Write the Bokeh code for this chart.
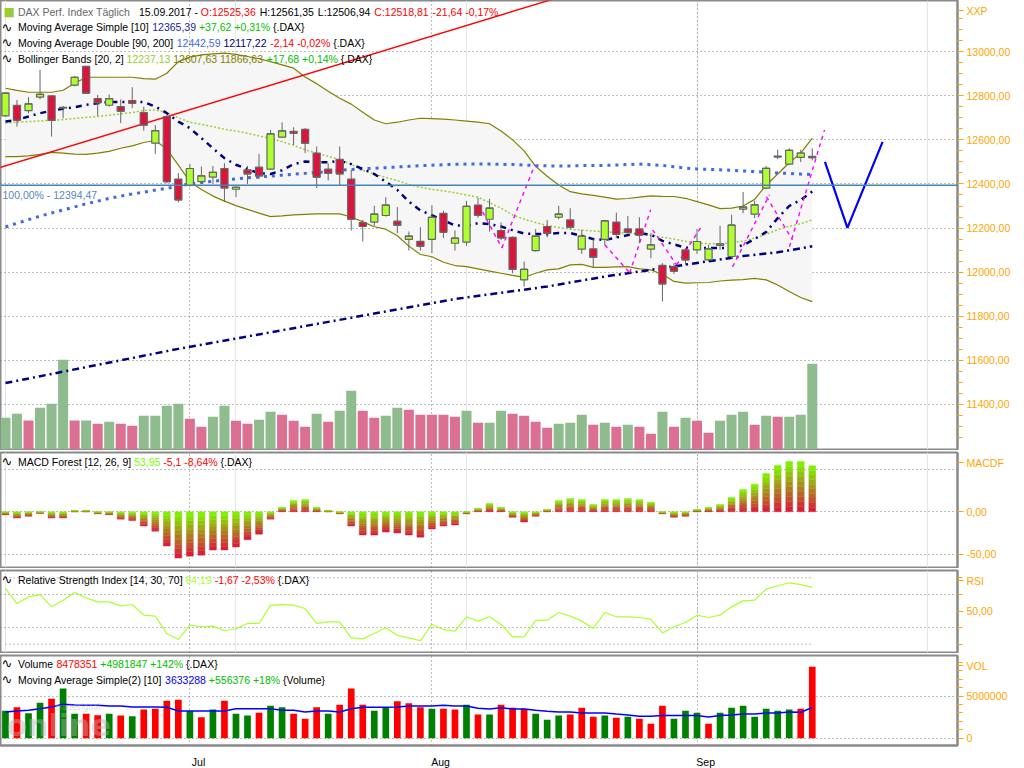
from bokeh.plotting import figure
from bokeh.models import Range1d, FixedTicker, Label, Span, Grid
from bokeh.layouts import column
from bokeh.embed import file_html
from bokeh.resources import INLINE

# ============================ DATA ============================
month_pos = [16, 37, 60]
month_labels = ["Jul", "Aug", "Sep"]

price_ticks = [11400, 11600, 11800, 12000, 12200, 12400, 12600, 12800, 13000]
price_tick_labels = ["11400,00", "11600,00", "11800,00", "12000,00", "12200,00",
                     "12400,00", "12600,00", "12800,00", "13000,00"]
macd_ticks = [-50, 0]
macd_tick_labels = ["-50,00", "0,00"]
macd_grid = [-50, 0, 50]
rsi_ticks = [50]
rsi_tick_labels = ["50,00"]
rsi_grid = [40, 60]
rsi_levels = [30, 70]
vol_ticks = [0, 5000000]
vol_tick_labels = ["0", "5000000"]
panel_names = ["XXP", "MACDF", "RSI", "VOL"]

opens = [12709, 12757, 12733, 12794, 12800, 12747, 12848, 12933, 12787, 12757,
         12751, 12778, 12724, 12585, 12706, 12422, 12394, 12411, 12431, 12470,
         12376, 12464, 12476, 12467, 12612, 12639, 12648, 12540, 12467, 12512,
         12422, 12225, 12227, 12257, 12231, 12149, 12140, 12149, 12267, 12131,
         12136, 12304, 12240, 12189, 12158, 11965, 12098, 12207, 12249, 12237,
         12104, 12106, 12149, 12227, 12196, 12196, 12104, 12031, 12025, 12101,
         12101, 12056, 12121, 12071, 12286, 12263, 12381, 12526, 12490, 12521,
         12525.36]
highs = [12815, 12781, 12794, 12918, 12802, 12754, 12890, 12936, 12804, 12806,
         12784, 12839, 12751, 12667, 12713, 12449, 12491, 12479, 12482, 12494,
         12388, 12482, 12536, 12645, 12679, 12657, 12654, 12570, 12494, 12570,
         12464, 12237, 12301, 12340, 12295, 12184, 12204, 12304, 12279, 12189,
         12323, 12337, 12332, 12225, 12162, 12048, 12195, 12237, 12301, 12290,
         12192, 12149, 12237, 12270, 12255, 12249, 12177, 12041, 12041, 12109,
         12196, 12124, 12210, 12260, 12364, 12323, 12482, 12555, 12562, 12555,
         12561.35]
lows = [12705, 12660, 12721, 12784, 12615, 12698, 12842, 12810, 12709, 12751,
        12676, 12744, 12642, 12536, 12403, 12316, 12388, 12403, 12400, 12320,
        12340, 12400, 12422, 12464, 12608, 12577, 12540, 12381, 12416, 12391,
        12189, 12139, 12210, 12252, 12177, 12098, 12098, 12086, 12154, 12098,
        12119, 12246, 12184, 12146, 11995, 11935, 12093, 12158, 12240, 12195,
        12083, 12022, 12124, 12154, 12174, 12131, 12063, 11867, 11992, 12033,
        12083, 12048, 12101, 12063, 12267, 12245, 12376, 12512, 12487, 12499,
        12506.94]
closes = [12812, 12689, 12763, 12806, 12688, 12745, 12884, 12812, 12769, 12787,
          12730, 12766, 12667, 12642, 12411, 12328, 12470, 12437, 12453, 12382,
          12385, 12446, 12437, 12627, 12641, 12630, 12585, 12431, 12449, 12446,
          12240, 12207, 12263, 12304, 12213, 12163, 12118, 12249, 12181, 12154,
          12298, 12258, 12290, 12155, 12013, 12013, 12163, 12177, 12263, 12204,
          12163, 12068, 12233, 12172, 12181, 12168, 12124, 11947, 12004, 12056,
          12139, 12106, 12128, 12213, 12295, 12305, 12471, 12523, 12552, 12540.45,
          12518.81]

sma10 = [12683, 12690, 12706, 12721, 12732, 12741, 12748, 12759, 12766, 12772,
         12772, 12772, 12771, 12751, 12721, 12683, 12653, 12608, 12562, 12517,
         12487, 12467, 12449, 12445, 12462, 12490, 12502, 12499, 12499, 12505,
         12490, 12468, 12445, 12410, 12373, 12320, 12280, 12258, 12235, 12212,
         12210, 12222, 12218, 12207, 12190, 12175, 12173, 12172, 12178, 12177,
         12165, 12150, 12146, 12157, 12168, 12177, 12170, 12142, 12126, 12111,
         12109, 12109, 12109, 12110, 12122, 12150, 12182, 12245, 12300, 12327.77,
         12365.39]
ma90 = [12205, 12222, 12238, 12254, 12268, 12282, 12296, 12310, 12322, 12335,
        12345, 12355, 12363, 12372, 12380, 12390, 12400, 12406, 12412, 12418,
        12423, 12428, 12432, 12435, 12440, 12444, 12448, 12452, 12457, 12462,
        12466, 12469, 12471, 12474, 12477, 12480, 12483, 12485, 12487, 12489,
        12490, 12490, 12490, 12489, 12488, 12486, 12483, 12482, 12482, 12482,
        12483, 12484, 12484, 12486, 12488, 12490, 12487, 12484, 12478, 12472,
        12468, 12466, 12464, 12462, 12459, 12456, 12454, 12450, 12448, 12444.73,
        12442.59]
ma200_idx = [0, 15, 39, 47, 52, 58, 64, 67, 70]
ma200_val = [11497, 11652, 11878, 11935, 11980, 12026, 12073, 12090, 12117.22]
bb_upper = [12834, 12824, 12816, 12816, 12816, 12825, 12857, 12884, 12884, 12884,
            12884, 12884, 12878, 12875, 12902, 12955, 12975, 12985, 12990, 12993,
            12988, 12978, 12968, 12955, 12940, 12925, 12885, 12855, 12820, 12789,
            12762, 12725, 12690, 12673, 12680, 12690, 12698, 12696, 12694, 12690,
            12685, 12680, 12673, 12640, 12600, 12550, 12480, 12435, 12395, 12365,
            12355, 12348, 12340, 12331, 12334, 12340, 12346, 12344, 12343, 12335,
            12320, 12305, 12288, 12290, 12300, 12330, 12395, 12445, 12496, 12540,
            12607.63]
bb_mid = [12676, 12680, 12683, 12686, 12689, 12692, 12697, 12702, 12706, 12712,
          12718, 12724, 12733, 12736, 12724, 12700, 12680, 12670, 12660, 12648,
          12640, 12630, 12618, 12606, 12592, 12575, 12555, 12540, 12525, 12510,
          12490, 12462, 12445, 12430, 12415, 12398, 12385, 12375, 12369, 12360,
          12350, 12340, 12315, 12290, 12260, 12240, 12225, 12212, 12202, 12195,
          12190, 12187, 12183, 12180, 12177, 12173, 12167, 12158, 12150, 12140,
          12132, 12129, 12128, 12134, 12140, 12155, 12172, 12193, 12208, 12219.45,
          12237.13]
bb_lower = [12524, 12524, 12527, 12534, 12543, 12540, 12535, 12534, 12540, 12548,
            12562, 12573, 12588, 12597, 12558, 12485, 12410, 12375, 12345, 12322,
            12302, 12285, 12268, 12252, 12255, 12260, 12262, 12264, 12264, 12264,
            12250, 12228, 12206, 12195, 12165, 12118, 12080, 12070, 12045, 12030,
            12025, 12015, 12005, 11995, 11985, 11976, 11995, 12010, 12015, 12033,
            12035, 12022, 12022, 12024, 12025, 12015, 12010, 11990, 11958, 11950,
            11952, 11953, 11960, 11964, 11966, 11972, 11965, 11942, 11912, 11885,
            11866.63]

# volume bars inside the price panel (relative units)
main_vol = [95, 107, 87, 125, 137, 269, 87, 87, 77, 83,
            77, 71, 101, 101, 131, 137, 92, 68, 98, 131,
            86, 77, 89, 113, 104, 86, 68, 107, 83, 116,
            176, 116, 95, 101, 125, 119, 104, 104, 104, 98,
            116, 80, 80, 116, 107, 101, 83, 65, 77, 80,
            104, 74, 80, 68, 74, 68, 47, 113, 68, 95,
            86, 50, 86, 104, 113, 74, 101, 98, 98, 104,
            257]
main_vol_dir = list("GGPGGGPGPG" "PPGGGGPPGG" "PPGGPPPGPG" "GPPGGPPPPP"
                    "GPGGPPPPGG" "GPGPGPPGPG" "PPGGGPGPGG" "G")

volume_m = [3.27, 3.66, 2.95, 4.21, 4.69, 5.90, 2.91, 2.91, 2.72, 2.91,
            2.68, 2.60, 3.39, 3.50, 4.45, 4.57, 3.23, 2.48, 3.39, 4.45,
            2.91, 2.68, 3.03, 3.86, 3.66, 2.91, 2.32, 3.66, 2.91, 3.98,
            5.90, 3.98, 3.27, 3.62, 4.37, 4.13, 3.66, 3.50, 3.50, 3.39,
            3.98, 2.80, 2.80, 3.98, 3.62, 3.50, 2.91, 2.20, 2.68, 2.80,
            3.62, 2.56, 2.68, 2.44, 2.56, 2.32, 1.73, 3.86, 2.32, 3.27,
            3.03, 1.73, 3.03, 3.62, 3.86, 2.56, 3.50, 3.27, 3.39, 3.50,
            8.478351]
vol_dir = list("GRGGRGGRRG" "RGRRRRGRGR" "GGRGGRRRGR" "RRGGRRRGRR"
               "GRGRRRGGGR" "RRGRGRRRGG" "GRGGGGGGGR" "R")
vol_ma10_m = [3.11, 3.23, 3.31, 3.50, 3.70, 4.02, 3.94, 3.90, 3.90, 3.82,
              3.82, 3.70, 3.70, 3.70, 3.66, 3.23, 3.23, 3.23, 3.23, 3.23,
              3.50, 3.50, 3.50, 3.50, 3.31, 3.31, 3.11, 3.23, 3.23, 3.11,
              3.50, 3.66, 3.66, 3.66, 3.70, 3.82, 3.82, 3.82, 3.90, 3.82,
              3.82, 3.54, 3.46, 3.62, 3.46, 3.46, 3.31, 3.19, 3.11, 3.11,
              2.99, 2.99, 2.99, 2.87, 2.76, 2.60, 2.60, 2.68, 2.68, 2.68,
              2.68, 2.52, 2.68, 2.76, 2.87, 2.87, 2.99, 2.99, 3.11, 3.08,
              3.633288]

macd = [-3.5, -7.4, -5.1, -1.6, -7.4, -7.4, 1.6, 1.6, -2.3, -3.5,
        -8.6, -10.2, -16.8, -22.7, -40.2, -54.3, -52.0, -50.8, -44.9, -44.9,
        -41.4, -32.8, -26.2, -8.6, 5.1, 13.3, 14.5, 5.1, 1.6, -2.3,
        -16.8, -27.3, -27.3, -23.8, -25.0, -27.3, -29.7, -20.3, -16.8, -15.6,
        -2.3, 3.9, 9.8, 5.1, -6.3, -12.1, -5.1, 2.7, 13.3, 15.6,
        14.5, 8.6, 14.5, 14.5, 15.6, 14.5, 11.3, -2.3, -6.3, -5.1,
        2.7, 5.1, 8.6, 16.8, 26.2, 32.4, 44.9, 54.3, 59.0, 59.05,
        53.95]
rsi = [63.6, 54.5, 58.5, 59.9, 52.5, 56.5, 61.1, 57.9, 55.5, 55.5,
       53.1, 53.9, 47.5, 46.9, 36.4, 32.8, 41.5, 40.5, 40.9, 38.1,
       39.3, 42.5, 42.5, 53.5, 53.9, 53.5, 51.5, 42.5, 43.5, 43.5,
       33.8, 33.2, 36.4, 39.9, 35.4, 33.8, 32.2, 41.9, 38.9, 37.9,
       46.5, 43.9, 46.5, 41.9, 34.4, 34.4, 44.3, 44.5, 49.1, 46.9,
       43.9, 39.5, 49.1, 46.5, 46.5, 46.1, 45.1, 36.8, 40.5, 43.1,
       47.5, 46.1, 47.5, 52.5, 56.1, 56.5, 63.2, 65.2, 67.0, 65.86,
       64.19]

# chart drawings (bar index, price)
trend_idx = [0, 46.8]
trend_val = [12482, 13227]
v_idx = [71.1, 73.05, 76.1]
v_val = [12500, 12201, 12591]
fib_level = 12394.47
fib_text = "100,00% - 12394,47"
mag_x0 = [41.07, 43.07, 52.0, 54.16, 56.15, 58.23, 63.08, 66.03, 68.02]
mag_y0 = [12305, 12110, 12124, 11997, 12192, 12033, 12024, 12342, 12115]
mag_x1 = [43.07, 45.93, 54.16, 55.98, 58.23, 60.49, 66.29, 68.28, 71.06]
mag_y1 = [12110, 12487, 11997, 12283, 12033, 12215, 12351, 12146, 12645]

# ============================ STYLE ============================
FONT = "Liberation Sans"
FS = 10.5
ORANGE = "#FFA500"
FRAMEC = "#8a8a8a"
GRIDC = "#7a7a7a"
FRAME_W = 957
RIGHT_W = 58
GREEN_C = "#ADFF2F"
RED_C = "#DC143C"
NAME_OFF = 10  # px below panel top where the panel name sits on the right axis

n = len(closes)
idx = list(range(n))
x_range = Range1d(-0.43, 82.6)

ARIAL = {' ': 278, '%': 889, '+': 584, ',': 278, '-': 333, '.': 278, ':': 278,
         '[': 278, ']': 278, '{': 334, '}': 334, '(': 333, ')': 333,
         'A': 667, 'B': 667, 'C': 722, 'D': 722, 'E': 667, 'F': 611, 'G': 778,
         'H': 722, 'I': 278, 'L': 556, 'M': 833, 'O': 778, 'P': 667, 'R': 722,
         'S': 667, 'T': 611, 'V': 667, 'X': 667, 'a': 556, 'b': 556, 'c': 500,
         'd': 556, 'e': 556, 'f': 278, 'g': 556, 'h': 556, 'i': 222, 'l': 222,
         'm': 833, 'n': 556, 'o': 556, 'p': 556, 'r': 333, 's': 500, 't': 278,
         'u': 556, 'v': 500, 'x': 500, 'y': 500, 'ä': 556}


def tw(s, size=FS):
    return sum(ARIAL.get(ch, 556) for ch in s) * size / 1000.0


def make_panel(frame_h, lo, hi, b_top, b_bottom, grid_ticks, ticks, labels, name,
               minor=None, with_xaxis=False):
    p = figure(frame_width=FRAME_W, frame_height=frame_h, x_range=x_range,
               y_range=Range1d(lo, hi),
               output_backend="svg", toolbar_location=None,
               x_axis_location=("below" if with_xaxis else None), y_axis_location="right",
               min_border_left=0, min_border_right=RIGHT_W,
               min_border_top=b_top, min_border_bottom=b_bottom)
    p.outline_line_color = FRAMEC
    p.outline_line_width = 2
    p.background_fill_color = "white"
    p.border_fill_color = "white"
    ax = p.yaxis[0]
    # panel name shown as a label on the right axis near the top of the panel
    name_pos = hi - NAME_OFF * (hi - lo) / frame_h
    ax.ticker = FixedTicker(ticks=list(ticks) + [name_pos], minor_ticks=(minor or []))
    ov = dict(zip(ticks, labels))
    ov[name_pos] = name
    ax.major_label_overrides = ov
    ax.axis_line_color = FRAMEC
    ax.axis_line_width = 2
    ax.major_tick_line_color = ORANGE
    ax.major_tick_in = 0
    ax.major_tick_out = 6
    ax.minor_tick_line_color = ORANGE
    ax.minor_tick_in = 0
    ax.minor_tick_out = 5
    ax.major_label_text_color = ORANGE
    ax.major_label_text_font = FONT
    ax.major_label_text_font_size = f"{FS}px"
    ax.major_label_standoff = 3
    p.ygrid.ticker = FixedTicker(ticks=grid_ticks)
    p.ygrid.grid_line_color = GRIDC
    p.ygrid.grid_line_dash = "1 3"
    if with_xaxis:
        p.xgrid.visible = False
    p.add_layout(Grid(dimension=0, ticker=FixedTicker(ticks=month_pos),
                      grid_line_color=GRIDC, grid_line_dash="1 3"))
    return p


def legend_row(p, frame_h, top_off, segs, icon="wave", gaps=None):
    if icon == "wave":
        p.add_layout(Label(x=1, y=frame_h - top_off, x_units="screen", y_units="screen",
                           text="\u223f", text_font="DejaVu Sans", text_font_size="13px",
                           text_color="black", text_baseline="middle", text_align="left"))
    x = 17.5
    for k, (txt, col) in enumerate(segs):
        p.add_layout(Label(x=x, y=frame_h - top_off, x_units="screen", y_units="screen",
                           text=txt, text_font=FONT, text_font_size=f"{FS}px",
                           text_color=col, text_baseline="middle", text_align="left"))
        x += tw(txt + " ") + (gaps[k] if gaps else 0)


# ============================ PRICE PANEL ============================
MAIN_H = 449
MAIN_LO = 13232 - MAIN_H / 0.2205
p = make_panel(MAIN_H, MAIN_LO, 13232, 0, 1, price_ticks, price_ticks, price_tick_labels,
               panel_names[0],
               minor=[v for v in range(11200, 13250, 50) if v % 200 != 0])
p.extra_y_ranges = {"vol": Range1d(0, MAIN_H * 3)}

p.varea(x=idx, y1=bb_lower, y2=bb_upper, fill_color="#f6f6f6")
p.vbar(x=idx, width=0.87, top=main_vol, bottom=0, y_range_name="vol",
       fill_color=["#8FBC8F" if d == "G" else "#DB7093" for d in main_vol_dir], line_color=None)

p.line(idx, bb_upper, line_color="#808000", line_width=1.2)
p.line(idx, bb_lower, line_color="#808000", line_width=1.2)
p.line(idx, bb_mid, line_color="#9ACD32", line_width=1.5, line_dash="2 2")
p.line(idx, ma90, line_color="#4169E1", line_width=3, line_dash="3 5")
p.line(ma200_idx, ma200_val, line_color="#000080", line_width=2.5, line_dash="7 4 2 4")
p.line(idx, sma10, line_color="#000080", line_width=2.5, line_dash="6 5 2 5")

# trend line (extended linearly through the two anchor points)
slope = (trend_val[1] - trend_val[0]) / (trend_idx[1] - trend_idx[0])
tx = [-1.0, 60.0]
p.line(tx, [trend_val[0] + slope * (t - trend_idx[0]) for t in tx], line_color="#FF0000", line_width=1.4)

p.add_layout(Span(location=fib_level, dimension="width", line_color="#4682B4", line_width=1.5))
p.add_layout(Label(x=2, y=fib_level, x_units="screen", y_units="data", text=fib_text,
                   text_font=FONT, text_font_size=f"{FS}px", text_color="#5b86b5",
                   text_baseline="top", y_offset=-4))

p.segment(x0=mag_x0, y0=mag_y0, x1=mag_x1, y1=mag_y1, line_color="#FF00FF",
          line_width=1.4, line_dash="4 4")

# candles
p.segment(x0=idx, y0=lows, x1=idx, y1=highs, line_color="#666666", line_width=1)
p.vbar(x=idx, width=0.62, top=[max(o, c) for o, c in zip(opens, closes)],
       bottom=[min(o, c) for o, c in zip(opens, closes)],
       fill_color=[GREEN_C if c >= o else RED_C for o, c in zip(opens, closes)],
       line_color="#666666", line_width=1.2)
p.segment(x0=[i - 0.31 for i in idx], y0=closes, x1=[i + 0.31 for i in idx], y1=closes,
          line_color="#666666", line_width=1.2)

p.line(v_idx, v_val, line_color="#0000FF", line_width=2.2)

# legend rows
p.add_layout(Label(x=3, y=MAIN_H - 11, x_units="screen", y_units="screen", text="\u25a0",
                   text_font="DejaVu Sans", text_font_size="12px", text_color="#9ACD32",
                   text_baseline="middle"))
legend_row(p, MAIN_H, 11, [("DAX Perf. Index Täglich", "#666666"), ("15.09.2017 -", "#000000"),
                           ("O:12525,36", "#FF0000"), ("H:12561,35", "#000000"),
                           ("L:12506,94", "#000000"), ("C:12518,81", "#FF0000"),
                           ("-21,64", "#FF0000"), ("-0,17%", "#FF0000")], icon=None,
           gaps=[6, 0, 1, 1, 1, 1, 0, 0])
legend_row(p, MAIN_H, 26.5, [("Moving Average Simple [10]", "#000000"), ("12365,39", "#24249a"),
                             ("+37,62", "#00C000"), ("+0,31%", "#00C000"), ("{.DAX}", "#000000")])
legend_row(p, MAIN_H, 42.3, [("Moving Average Double [90, 200]", "#000000"), ("12442,59", "#4169E1"),
                             ("12117,22", "#000080"), ("-2,14", "#FF0000"), ("-0,02%", "#FF0000"),
                             ("{.DAX}", "#000000")])
legend_row(p, MAIN_H, 58, [("Bollinger Bands [20, 2]", "#000000"), ("12237,13", "#9ACD32"),
                           ("12607,63", "#808000"), ("11866,63", "#808000"),
                           ("+17,68", "#00C000"), ("+0,14%", "#00C000"), ("{.DAX}", "#000000")])

# ============================ MACD PANEL ============================
MACD_H = 115
pm = make_panel(MACD_H, -65.3, 69.5, 2, 1, macd_grid, macd_ticks, macd_tick_labels, panel_names[1])
NSEG = 10
RED_RGB = (220, 20, 60)
GRN_RGB = (124, 252, 0)
qL, qR, qB, qT, qC = [], [], [], [], []
for i, v in enumerate(macd):
    lo, hi = min(0.0, v), max(0.0, v)
    for k in range(NSEG):
        f = (k + 0.5) / NSEG
        col = "#%02x%02x%02x" % tuple(int(RED_RGB[j] + (GRN_RGB[j] - RED_RGB[j]) * f) for j in range(3))
        qL.append(i - 0.3)
        qR.append(i + 0.3)
        qB.append(lo + (hi - lo) * k / NSEG)
        qT.append(lo + (hi - lo) * (k + 1) / NSEG)
        qC.append(col)
pm.quad(left=qL, right=qR, bottom=qB, top=qT, fill_color=qC, line_color=qC, line_width=0.4)
legend_row(pm, MACD_H, 9, [("MACD Forest [12, 26, 9]", "#000000"), ("53,95", "#7CFC00"),
                           ("-5,1", "#FF0000"), ("-8,64%", "#FF0000"), ("{.DAX}", "#000000")])

# ============================ RSI PANEL ============================
RSI_H = 82
pr = make_panel(RSI_H, 25.0, 74.4, 2, 1, rsi_grid, rsi_ticks, rsi_tick_labels, panel_names[2],
                minor=[30, 40, 60, 70])
pr.segment(x0=[0, 0], y0=rsi_levels, x1=[n - 1, n - 1], y1=rsi_levels,
           line_color=GRIDC, line_dash="1 3", line_width=1)
pr.line(idx, rsi, line_color="#ADFF2F", line_width=1.2)
legend_row(pr, RSI_H, 9, [("Relative Strength Index [14, 30, 70]", "#000000"), ("64,19", "#ADFF2F"),
                          ("-1,67", "#FF0000"), ("-2,53%", "#FF0000"), ("{.DAX}", "#000000")])

# ============================ VOLUME PANEL ============================
VOL_H = 90
pv = make_panel(VOL_H, -0.86e6, 9.8e6, 2, 19, vol_ticks, vol_ticks, vol_tick_labels, panel_names[3],
                minor=[1e6, 2e6, 3e6, 4e6, 6e6, 7e6, 8e6, 9e6], with_xaxis=True)
pv.add_layout(Label(x=6, y=3, x_units="screen", y_units="screen", text="online",
                    text_font="DejaVu Sans", text_font_style="bold", text_font_size="30px",
                    text_color="#b0b0b0", text_alpha=0.45))
pv.add_layout(Label(x=55, y=34, x_units="screen", y_units="screen", text="tradesignal",
                    text_font="DejaVu Sans", text_font_size="8px",
                    text_color="#b0b0b0", text_alpha=0.5))
pv.vbar(x=idx, width=0.58, top=[v * 1e6 for v in volume_m], bottom=0,
        fill_color=["#008000" if d == "G" else "#FF0000" for d in vol_dir], line_color=None)
pv.line(idx, [v * 1e6 for v in vol_ma10_m], line_color="#0000FF", line_width=1.5)
legend_row(pv, VOL_H, 8, [("Volume", "#000000"), ("8478351", "#FF0000"), ("+4981847", "#00C000"),
                          ("+142%", "#00C000"), ("{.DAX}", "#000000")])
legend_row(pv, VOL_H, 24, [("Moving Average Simple(2) [10]", "#000000"), ("3633288", "#0000FF"),
                           ("+556376", "#00C000"), ("+18%", "#00C000"), ("{Volume}", "#000000")])

# month labels just to the right of each month start
label_pos = [m + 0.75 for m in month_pos]
xa = pv.xaxis[0]
xa.ticker = FixedTicker(ticks=label_pos)
xa.major_label_overrides = dict(zip(label_pos, month_labels))
xa.axis_line_color = FRAMEC
xa.axis_line_width = 2
xa.major_tick_line_color = None
xa.minor_tick_line_color = None
xa.major_label_standoff = 4
xa.major_label_text_font = FONT
xa.major_label_text_font_size = f"{FS}px"
xa.major_label_text_color = "#000000"

layout = column(p, pm, pr, pv)
open("out.html", "w").write(file_html(layout, INLINE))
